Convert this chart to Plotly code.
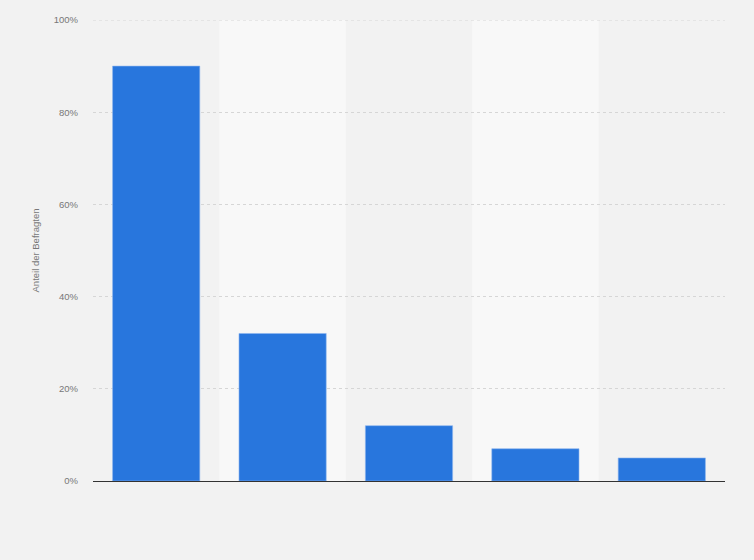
import plotly.graph_objects as go

# Data
categories = ["1", "2", "3", "4", "5"]
values = [90, 32, 12, 7, 5]
y_ticks = [0, 20, 40, 60, 80, 100]
y_tick_labels = ["0%", "20%", "40%", "60%", "80%", "100%"]

fig = go.Figure(go.Bar(
    x=categories,
    y=values,
    marker=dict(color="#2876dd", line=dict(color="#8db6ee", width=0.6)),
    width=0.69,
    hoverinfo="y",
))

# alternating lighter column bands
shapes = []
for i in (1, 3):
    shapes.append(dict(type="rect", xref="x", yref="paper",
                       x0=i - 0.5, x1=i + 0.5, y0=0, y1=1,
                       fillcolor="#f8f8f8", line=dict(width=0), layer="below"))
# top gridline (plotly skips the one on the plot edge)
shapes.append(dict(type="line", xref="paper", yref="y", x0=0, x1=1,
                   y0=y_ticks[-1], y1=y_ticks[-1],
                   line=dict(color="#d6d6d6", width=1, dash="dot"), layer="below"))

fig.update_layout(
    width=754, height=560,
    margin=dict(l=93, r=29, t=20, b=79),
    paper_bgcolor="#f2f2f2",
    plot_bgcolor="#f2f2f2",
    font=dict(family="Liberation Sans, Arial, sans-serif", color="#777777", size=10),
    showlegend=False,
    shapes=shapes,
    bargap=0.31,
    xaxis=dict(showticklabels=False, showgrid=False, zeroline=False,
               showline=True, linecolor="#333333", linewidth=1.2,
               range=[-0.5, 4.5], fixedrange=True),
    yaxis=dict(range=[0, 100], tickvals=y_ticks, ticktext=y_tick_labels,
               showgrid=True, gridcolor="#d6d6d6", griddash="dot", gridwidth=1,
               zeroline=False, ticks="", ticklabelstandoff=14,
               tickfont=dict(size=9.5, color="#777777"),
               title=dict(text="Anteil der Befragten", font=dict(size=9.5, color="#777777"),
                          standoff=12),
               fixedrange=True),
)

fig.write_html("out.html", config={"displayModeBar": False},
               post_script="document.body.style.margin='0';")
